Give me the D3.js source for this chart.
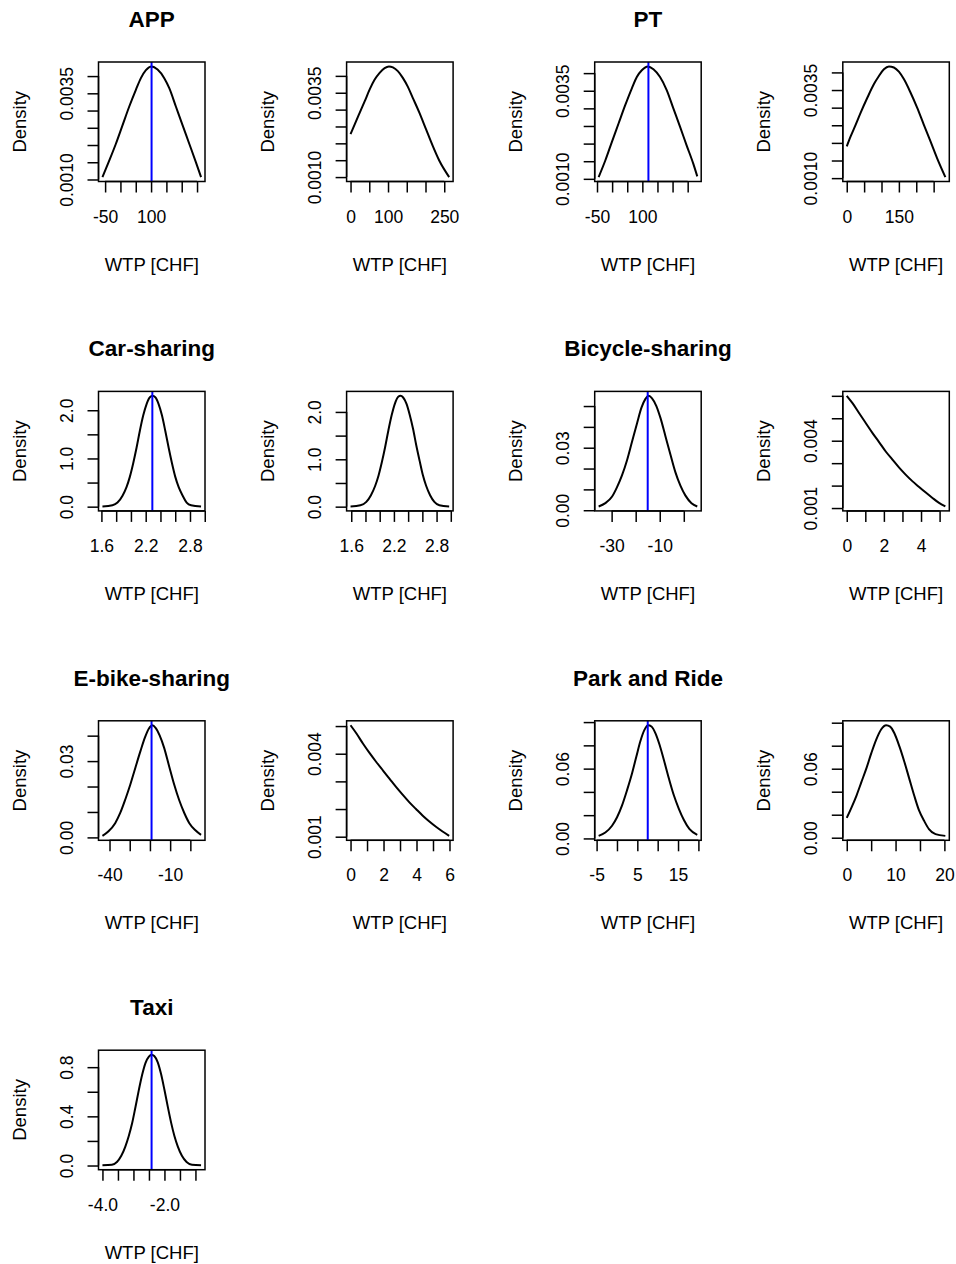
<!DOCTYPE html>
<meta charset="utf-8">
<script src="https://cdn.jsdelivr.net/npm/d3@7"></script>
<style>
body {
  margin: 0;
  background-color: #fff;
}
text {
  font-family: "Liberation Sans", Arial, sans-serif;
  fill: #000;
}
.box {
  fill: none;
  stroke: #000;
  stroke-width: 1.5px;
}
.curve {
  fill: none;
  stroke: #000;
  stroke-width: 2px;
}
.mean {
  stroke: #0000ff;
  stroke-width: 2px;
}
.tick line,
.axisline {
  stroke: #000;
  stroke-width: 1.5px;
}
.tick text {
  font-size: 17.5px;
}
.lab {
  font-size: 18.5px;
}
.title {
  font-size: 22.5px;
  font-weight: bold;
}
</style>
<body>
  <div id="chart"></div>
</body>
<script>
var titles = ["APP", "PT", "Car-sharing", "Bicycle-sharing", "E-bike-sharing", "Park and Ride", "Taxi"];
var means = [101.6, 120.1, 2.29, -15.0, -19.2, 7.56, -2.415];

// APP
var appX1 = [-58.7, -36.9, -15.1, 6.7, 28.5, 50.4, 66.7, 83.1, 101.6, 121.2, 143.1, 159.4, 181.2, 203.0, 224.9, 246.7, 263.1];
var appY1 = [0.00107, 0.00154, 0.00203, 0.00257, 0.00311, 0.00360, 0.00394, 0.00417, 0.00428, 0.00419, 0.00394, 0.00365, 0.00311, 0.00257, 0.00203, 0.00149, 0.00107];
var appX2 = [0, 11.4, 24.6, 37.9, 51.1, 64.4, 77.6, 90.9, 102.4, 113.0, 126.2, 139.5, 152.7, 166.0, 183.6, 201.3, 219.0, 236.6, 263.1];
var appY2 = [0.00227, 0.00257, 0.00291, 0.00325, 0.00360, 0.00389, 0.00409, 0.00423, 0.00428, 0.00425, 0.00414, 0.00394, 0.00368, 0.00335, 0.00291, 0.00242, 0.00193, 0.00149, 0.00100];
// PT
var ptX1 = [-44.6, -22.6, -0.7, 21.3, 43.3, 65.3, 81.7, 98.2, 118.0, 136.7, 158.6, 180.6, 202.6, 224.6, 246.5, 268.5, 281.7];
var ptY1 = [0.00105, 0.00152, 0.00205, 0.00257, 0.00309, 0.00357, 0.00389, 0.00408, 0.00419, 0.00411, 0.00389, 0.00352, 0.00300, 0.00248, 0.00195, 0.00143, 0.00107];
var ptX2 = [0, 11.5, 25.8, 40.1, 59.2, 78.3, 92.6, 107.0, 121.3, 135.6, 150.0, 164.3, 183.4, 202.5, 221.6, 240.7, 259.8, 283.7];
var ptY2 = [0.00190, 0.00219, 0.00252, 0.00286, 0.00328, 0.00367, 0.00390, 0.00409, 0.00417, 0.00414, 0.00402, 0.00381, 0.00343, 0.00300, 0.00252, 0.00205, 0.00157, 0.00103];
// Car-sharing
var carX1 = [1.614, 1.750, 1.818, 1.886, 1.940, 1.985, 2.031, 2.076, 2.121, 2.167, 2.212, 2.257, 2.293, 2.330, 2.375, 2.420, 2.465, 2.511, 2.556, 2.601, 2.647, 2.701, 2.755, 2.814, 2.950];
var carY1 = [0.004, 0.029, 0.086, 0.228, 0.405, 0.618, 0.901, 1.221, 1.575, 1.894, 2.128, 2.270, 2.299, 2.270, 2.128, 1.894, 1.575, 1.221, 0.901, 0.618, 0.405, 0.228, 0.086, 0.029, 0.004];
var carX2 = [1.590, 1.729, 1.812, 1.877, 1.937, 1.983, 2.030, 2.076, 2.122, 2.168, 2.214, 2.261, 2.293, 2.330, 2.376, 2.422, 2.469, 2.515, 2.561, 2.607, 2.653, 2.709, 2.769, 2.839, 2.977];
var carY2 = [0.004, 0.029, 0.100, 0.242, 0.441, 0.653, 0.937, 1.255, 1.609, 1.928, 2.176, 2.320, 2.340, 2.305, 2.176, 1.943, 1.645, 1.291, 0.972, 0.667, 0.441, 0.242, 0.100, 0.029, 0.004];
// Bicycle-sharing
var bikeX1 = [-35.4, -32.6, -29.8, -27.8, -25.7, -23.6, -21.5, -19.4, -17.6, -16.0, -14.6, -13.2, -11.4, -9.7, -7.6, -5.5, -3.5, -1.4, 0.7, 3.2, 5.6];
var bikeY1 = [0.0018, 0.0034, 0.0066, 0.0110, 0.0167, 0.0240, 0.0330, 0.0419, 0.0492, 0.0533, 0.0549, 0.0537, 0.0500, 0.0443, 0.0354, 0.0265, 0.0183, 0.0118, 0.0070, 0.0034, 0.0018];
var bikeX2 = [0, 0.32, 0.68, 1.03, 1.39, 1.74, 2.10, 2.46, 2.81, 3.17, 3.53, 3.88, 4.24, 4.60, 4.95, 5.31];
var bikeY2 = [0.00600, 0.00566, 0.00521, 0.00478, 0.00434, 0.00394, 0.00352, 0.00316, 0.00281, 0.00249, 0.00220, 0.00195, 0.00170, 0.00146, 0.00124, 0.00107];
// E-bike-sharing
var ebikeX1 = [-43.5, -40.5, -37.2, -34.7, -32.2, -29.7, -27.2, -24.7, -22.5, -20.5, -18.8, -17.2, -15.2, -13.0, -10.5, -8.0, -5.5, -3.0, -0.5, 2.5, 5.3];
var ebikeY1 = [0.0006, 0.0024, 0.0056, 0.0096, 0.0149, 0.0208, 0.0274, 0.0339, 0.0392, 0.0428, 0.0441, 0.0431, 0.0401, 0.0353, 0.0280, 0.0208, 0.0146, 0.0096, 0.0056, 0.0028, 0.0010];
var ebikeX2 = [0, 0.36, 0.76, 1.16, 1.56, 1.97, 2.37, 2.77, 3.17, 3.57, 3.97, 4.38, 4.78, 5.18, 5.58, 5.98];
var ebikeY2 = [0.00503, 0.00473, 0.00436, 0.00402, 0.00370, 0.00339, 0.00309, 0.00279, 0.00251, 0.00224, 0.00200, 0.00176, 0.00155, 0.00136, 0.00119, 0.00103];
// Park and Ride
var prX1 = [-4.50, -2.86, -1.21, 0.02, 1.25, 2.48, 3.71, 4.78, 5.76, 6.75, 7.65, 8.47, 9.46, 10.44, 11.51, 12.74, 13.97, 15.20, 16.44, 17.83, 19.72];
var prY1 = [0.0022, 0.0051, 0.0109, 0.0182, 0.0284, 0.0415, 0.0560, 0.0706, 0.0837, 0.0933, 0.0973, 0.0962, 0.0903, 0.0807, 0.0676, 0.0517, 0.0371, 0.0255, 0.0159, 0.0080, 0.0031];
var prX2 = [0, 1.01, 2.02, 3.03, 4.04, 5.05, 6.06, 7.07, 8.08, 8.89, 9.76, 10.77, 11.78, 12.79, 13.80, 14.81, 15.82, 16.84, 18.18, 20.20];
var prY2 = [0.0172, 0.0266, 0.0369, 0.0487, 0.0605, 0.0737, 0.0855, 0.0943, 0.0978, 0.0966, 0.0908, 0.0796, 0.0663, 0.0516, 0.0369, 0.0237, 0.0149, 0.0075, 0.0031, 0.0016];
// Taxi
var taxiX = [-4.000, -3.696, -3.533, -3.392, -3.262, -3.153, -3.045, -2.936, -2.827, -2.719, -2.610, -2.502, -2.415, -2.328, -2.219, -2.111, -2.002, -1.893, -1.785, -1.676, -1.568, -1.437, -1.286, -1.112, -0.819];
var taxiY = [0.002, 0.007, 0.029, 0.079, 0.154, 0.238, 0.341, 0.474, 0.613, 0.738, 0.835, 0.885, 0.902, 0.891, 0.841, 0.746, 0.618, 0.479, 0.349, 0.238, 0.154, 0.079, 0.029, 0.007, 0.002];

// ticks and the labels R kept (blank = dropped for overlap)
var wideTicks = [-50, 0, 50, 100, 150, 200, 250];
var wideLabels = ["-50", "", "", "100", "", "", ""];
var posTicks = [0, 50, 100, 150, 200, 250];
var appPosLabels = ["0", "", "100", "", "", "250"];
var ptPosLabels = ["0", "", "", "150", "", ""];
var milTicks = [0.0010, 0.0015, 0.0020, 0.0025, 0.0030, 0.0035, 0.0040];
var milLabels = ["0.0010", "", "", "", "", "0.0035", ""];
var carTicks = [1.6, 1.8, 2.0, 2.2, 2.4, 2.6, 2.8, 3.0];
var carLabels = ["1.6", "", "", "2.2", "", "", "2.8", ""];
var carYTicks = [0, 0.5, 1.0, 1.5, 2.0];
var carYLabels = ["0.0", "", "1.0", "", "2.0"];
var bikeTicks = [-30, -20, -10, 0];
var bikeLabels = ["-30", "", "-10", ""];
var bikeYTicks = [0, 0.01, 0.02, 0.03, 0.04, 0.05];
var bikeYLabels = ["0.00", "", "", "0.03", "", ""];
var bikeTicks2 = [0, 1, 2, 3, 4, 5];
var bikeLabels2 = ["0", "", "2", "", "4", ""];
var bikeYTicks2 = [0.001, 0.002, 0.003, 0.004, 0.005, 0.006];
var bikeYLabels2 = ["0.001", "", "", "0.004", "", ""];
var ebikeTicks = [-40, -30, -20, -10, 0];
var ebikeLabels = ["-40", "", "", "-10", ""];
var ebikeYTicks = [0, 0.01, 0.02, 0.03, 0.04];
var ebikeYLabels = ["0.00", "", "", "0.03", ""];
var ebikeTicks2 = [0, 1, 2, 3, 4, 5, 6];
var ebikeLabels2 = ["0", "", "2", "", "4", "", "6"];
var ebikeYTicks2 = [0.001, 0.002, 0.003, 0.004, 0.005];
var ebikeYLabels2 = ["0.001", "", "", "0.004", ""];
var prTicks = [-5, 0, 5, 10, 15, 20];
var prLabels = ["-5", "", "5", "", "15", ""];
var prTicks2 = [0, 5, 10, 15, 20];
var prLabels2 = ["0", "", "10", "", "20"];
var prYTicks = [0, 0.02, 0.04, 0.06, 0.08, 0.10];
var prYLabels = ["0.00", "", "", "0.06", "", ""];
var taxiTicks = [-4.0, -3.5, -3.0, -2.5, -2.0, -1.5, -1.0];
var taxiLabels = ["-4.0", "", "", "", "-2.0", "", ""];
var taxiYTicks = [0, 0.2, 0.4, 0.6, 0.8];
var taxiYLabels = ["0.0", "", "0.4", "", "0.8"];

var panels = [
  {x: appX1, y: appY1, xt: wideTicks, xl: wideLabels, yt: milTicks, yl: milLabels, title: titles[0], mean: means[0]},
  {x: appX2, y: appY2, xt: posTicks, xl: appPosLabels, yt: milTicks, yl: milLabels},
  {x: ptX1, y: ptY1, xt: wideTicks, xl: wideLabels, yt: milTicks, yl: milLabels, title: titles[1], mean: means[1]},
  {x: ptX2, y: ptY2, xt: posTicks, xl: ptPosLabels, yt: milTicks, yl: milLabels},
  {x: carX1, y: carY1, xt: carTicks, xl: carLabels, yt: carYTicks, yl: carYLabels, title: titles[2], mean: means[2]},
  {x: carX2, y: carY2, xt: carTicks, xl: carLabels, yt: carYTicks, yl: carYLabels},
  {x: bikeX1, y: bikeY1, xt: bikeTicks, xl: bikeLabels, yt: bikeYTicks, yl: bikeYLabels, title: titles[3], mean: means[3]},
  {x: bikeX2, y: bikeY2, xt: bikeTicks2, xl: bikeLabels2, yt: bikeYTicks2, yl: bikeYLabels2},
  {x: ebikeX1, y: ebikeY1, xt: ebikeTicks, xl: ebikeLabels, yt: ebikeYTicks, yl: ebikeYLabels, title: titles[4], mean: means[4]},
  {x: ebikeX2, y: ebikeY2, xt: ebikeTicks2, xl: ebikeLabels2, yt: ebikeYTicks2, yl: ebikeYLabels2},
  {x: prX1, y: prY1, xt: prTicks, xl: prLabels, yt: prYTicks, yl: prYLabels, title: titles[5], mean: means[5]},
  {x: prX2, y: prY2, xt: prTicks2, xl: prLabels2, yt: prYTicks, yl: prYLabels},
  {x: taxiX, y: taxiY, xt: taxiTicks, xl: taxiLabels, yt: taxiYTicks, yl: taxiYLabels, title: titles[6], mean: means[6]}
];

var width = 956, height = 1264,
    boxW = 106.5, boxH = 119.5;

var svg = d3.select("#chart").append("svg")
            .attr("width", width)
            .attr("height", height);

panels.forEach(function(p, i) {
  var col = i % 4, row = Math.floor(i / 4);
  var left = 98.5 + 248.1 * col,
      top = 62 + 329.4 * row;
  var g = svg.append("g")
             .attr("transform", "translate(" + left + "," + top + ")");

  // R style: data range plus 4% on each side
  var xr = d3.extent(p.x), yr = d3.extent(p.y);
  var xp = 0.04 * (xr[1] - xr[0]), yp = 0.04 * (yr[1] - yr[0]);
  var x = d3.scaleLinear().domain([xr[0] - xp, xr[1] + xp]).range([0, boxW]);
  var y = d3.scaleLinear().domain([yr[0] - yp, yr[1] + yp]).range([boxH, 0]);

  var xAxis = g.append("g")
      .attr("transform", "translate(0," + boxH + ")")
      .call(d3.axisBottom(x).tickValues(p.xt)
              .tickFormat(function(d, k) { return p.xl[k]; })
              .tickSize(11).tickSizeOuter(0));
  xAxis.attr("font-size", null).attr("font-family", null);
  xAxis.select(".domain").remove();
  xAxis.selectAll(".tick text").attr("y", 41).attr("dy", null);
  g.append("line").attr("class", "axisline")
      .attr("x1", x(p.xt[0])).attr("x2", x(p.xt[p.xt.length - 1]))
      .attr("y1", boxH).attr("y2", boxH);

  var yAxis = g.append("g")
      .call(d3.axisLeft(y).tickValues(p.yt)
              .tickFormat(function(d, k) { return p.yl[k]; })
              .tickSize(11).tickSizeOuter(0));
  yAxis.attr("font-size", null).attr("font-family", null);
  yAxis.select(".domain").remove();
  yAxis.selectAll(".tick text")
      .attr("transform", "rotate(-90)")
      .attr("x", 0).attr("y", -26).attr("dy", null)
      .attr("text-anchor", "middle");
  g.append("line").attr("class", "axisline")
      .attr("x1", 0).attr("x2", 0)
      .attr("y1", y(p.yt[0])).attr("y2", y(p.yt[p.yt.length - 1]));

  var line = d3.line()
      .x(function(d) { return x(d[0]); })
      .y(function(d) { return y(d[1]); })
      .curve(d3.curveMonotoneX);
  g.append("path")
      .datum(d3.zip(p.x, p.y))
      .attr("class", "curve")
      .attr("d", line);

  if (p.mean != null) {
    g.append("line").attr("class", "mean")
        .attr("x1", x(p.mean)).attr("x2", x(p.mean))
        .attr("y1", 0).attr("y2", boxH);
  }

  g.append("rect").attr("class", "box")
      .attr("width", boxW).attr("height", boxH);

  g.append("text").attr("class", "lab")
      .attr("x", boxW / 2).attr("y", boxH + 89)
      .attr("text-anchor", "middle")
      .text("WTP [CHF]");
  g.append("text").attr("class", "lab")
      .attr("transform", "translate(-72.5," + (boxH / 2) + ") rotate(-90)")
      .attr("text-anchor", "middle")
      .text("Density");

  if (p.title) {
    g.append("text").attr("class", "title")
        .attr("x", boxW / 2).attr("y", -35.3)
        .attr("text-anchor", "middle")
        .text(p.title);
  }
});
</script>
